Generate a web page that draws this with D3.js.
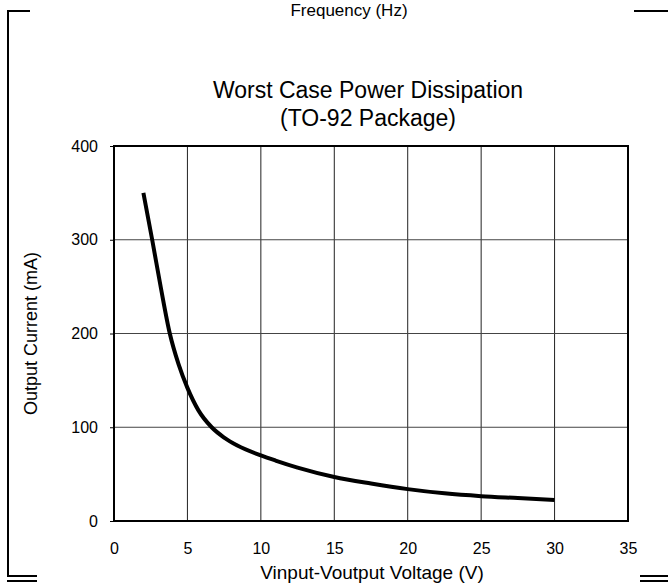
<!DOCTYPE html>
<html>
<head>
<meta charset="utf-8">
<script src="https://cdn.jsdelivr.net/npm/d3@7"></script>
<style>
  body { margin: 0; background: #fff; }
  svg { display: block; font-family: "Liberation Sans", Arial, sans-serif; }
</style>
</head>
<body>
<svg id="chart"></svg>
<script>
// Curve values
const voltage = [2, 2.6, 3.2, 3.8, 4.4, 5, 5.75, 6.65, 7.5, 8.4, 10, 11, 12.5, 15, 17.5, 20, 22.5, 25, 27.5, 30];
const current = [350, 300, 248, 200, 167, 142, 118, 100, 89, 80.5, 70, 64.5, 57, 47, 40, 34, 29.5, 26.5, 24.5, 22.5];

const xTicks = [0, 5, 10, 15, 20, 25, 30, 35];
const yTicks = [0, 100, 200, 300, 400];

const titleLines = ["Worst Case Power Dissipation", "(TO-92 Package)"];
const xLabel = "Vinput-Voutput Voltage (V)";
const yLabel = "Output Current (mA)";
const topLabel = "Frequency (Hz)";

const width = 668, height = 584;
const margin = {top: 146, right: 40, bottom: 63, left: 114};

const svg = d3.select("#chart")
  .attr("width", width)
  .attr("height", height);

const xScale = d3.scaleLinear()
  .domain([0, 35])
  .range([margin.left, width - margin.right]);

const yScale = d3.scaleLinear()
  .domain([0, 400])
  .range([height - margin.bottom, margin.top]);

// page frame bits left over from the datasheet
const frame = svg.append("g")
  .attr("stroke", "#000")
  .attr("stroke-width", 2)
  .attr("fill", "none");
frame.append("path").attr("d", "M30,11H8V576");
frame.append("path").attr("d", "M634,11H668");
frame.append("path").attr("d", "M7,576H37M7,581H37");
frame.append("path").attr("d", "M640,576H668M640,581H668");

svg.append("text")
  .attr("x", 349)
  .attr("y", 16)
  .attr("text-anchor", "middle")
  .style("font-size", "17px")
  .text(topLabel);

// grid
svg.append("g")
  .selectAll("line")
  .data(xTicks.filter(d => d > 0 && d < 35))
  .enter().append("line")
  .attr("x1", d => xScale(d)).attr("x2", d => xScale(d))
  .attr("y1", yScale(0)).attr("y2", yScale(400))
  .attr("stroke", "#222")
  .attr("stroke-width", 1);

svg.append("g")
  .selectAll("line")
  .data(yTicks.filter(d => d > 0 && d < 400))
  .enter().append("line")
  .attr("x1", xScale(0)).attr("x2", xScale(35))
  .attr("y1", d => yScale(d)).attr("y2", d => yScale(d))
  .attr("stroke", "#444")
  .attr("stroke-width", 1);

// axes
const xAxis = svg.append("g")
  .attr("transform", `translate(0,${height - margin.bottom})`)
  .call(d3.axisBottom(xScale).tickValues(xTicks).tickSize(0).tickPadding(22));

const yAxis = svg.append("g")
  .attr("transform", `translate(${margin.left},0)`)
  .call(d3.axisLeft(yScale).tickValues(yTicks).tickSize(4).tickPadding(12));

[xAxis, yAxis].forEach(a => {
  a.select(".domain").remove();
  a.selectAll("text")
    .attr("fill", "#000")
    .style("font-size", "16px")
    .style("font-family", "'Liberation Sans', Arial, sans-serif");
  a.selectAll("line").attr("stroke", "#000");
});

// plot border
svg.append("rect")
  .attr("x", xScale(0))
  .attr("y", yScale(400))
  .attr("width", xScale(35) - xScale(0))
  .attr("height", yScale(0) - yScale(400))
  .attr("fill", "none")
  .attr("stroke", "#000")
  .attr("stroke-width", 2);

// curve
const line = d3.line()
  .x((d, i) => xScale(voltage[i]))
  .y(d => yScale(d))
  .curve(d3.curveMonotoneX);

svg.append("path")
  .datum(current)
  .attr("d", line)
  .attr("fill", "none")
  .attr("stroke", "#000")
  .attr("stroke-width", 4);

// titles
svg.append("g")
  .selectAll("text")
  .data(titleLines)
  .enter().append("text")
  .attr("x", 368)
  .attr("y", (d, i) => 98 + i * 28)
  .attr("text-anchor", "middle")
  .style("font-size", "23px")
  .text(d => d);

svg.append("text")
  .attr("x", 372)
  .attr("y", 579)
  .attr("text-anchor", "middle")
  .style("font-size", "19px")
  .text(xLabel);

svg.append("text")
  .attr("transform", `translate(37,${(yScale(0) + yScale(400)) / 2}) rotate(-90)`)
  .attr("text-anchor", "middle")
  .style("font-size", "18px")
  .text(yLabel);
</script>
</body>
</html>
